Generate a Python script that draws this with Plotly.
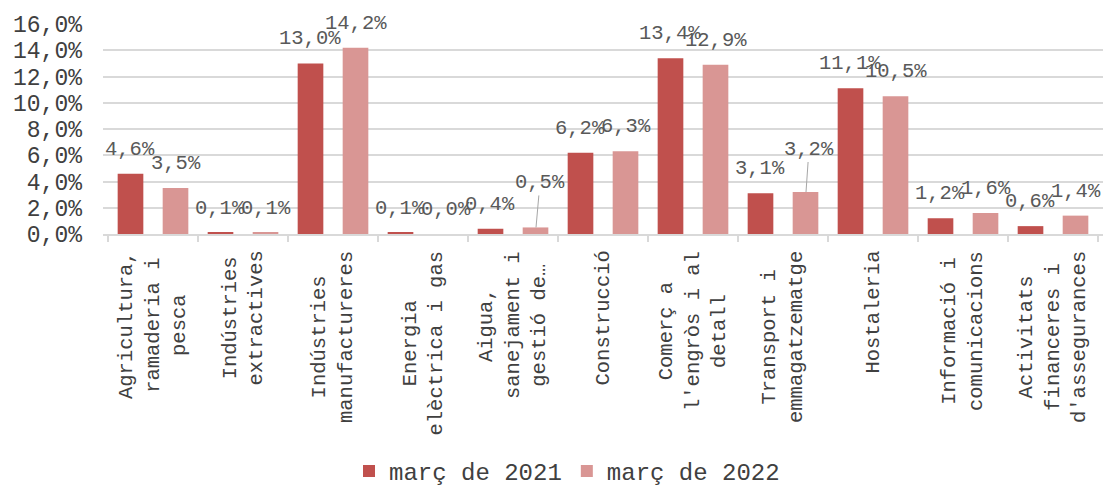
import plotly.graph_objects as go

categories = [
    "Agricultura, ramaderia i pesca",
    "Indústries extractives",
    "Indústries manufactureres",
    "Energia elèctrica i gas",
    "Aigua, sanejament i gestió de…",
    "Construcció",
    "Comerç a l'engròs i al detall",
    "Transport i emmagatzematge",
    "Hostaleria",
    "Informació i comunicacions",
    "Activitats financeres i d'assegurances",
]
tick_labels = [
    "Agricultura,<br>ramaderia i<br>pesca",
    "Indústries<br>extractives",
    "Indústries<br>manufactureres",
    "Energia<br>elèctrica i gas",
    "Aigua,<br>sanejament i<br>gestió de…",
    "Construcció",
    "Comerç a<br>l'engròs i al<br>detall",
    "Transport i<br>emmagatzematge",
    "Hostaleria",
    "Informació i<br>comunicacions",
    "Activitats<br>financeres i<br>d'assegurances",
]
series_names = ["març de 2021", "març de 2022"]
values_2021 = [4.6, 0.1, 13.0, 0.1, 0.4, 6.2, 13.4, 3.1, 11.1, 1.2, 0.6]
values_2022 = [3.5, 0.1, 14.2, 0.0, 0.5, 6.3, 12.9, 3.2, 10.5, 1.6, 1.4]

FONT = "Liberation Mono, Courier New, monospace"
COLORS = ["#C0504D", "#D99694"]
# labels moved away from their bars with a leader line: (series, category) -> (ax, ay) px
leader_labels = {(1, 4): (4, -45), (1, 7): (3, -43)}


def fmt(v):
    return f"{v:.1f}".replace(".", ",") + "%"


fig = go.Figure()
for name, vals, col in zip(series_names, [values_2021, values_2022], COLORS):
    fig.add_trace(go.Bar(name=name, x=categories, y=vals, marker_color=col,
                         marker_line_width=0))

annotations = []
for s, vals in enumerate([values_2021, values_2022]):
    xs = -23 if s == 0 else 23
    for i, (cat, v) in enumerate(zip(categories, vals)):
        if (s, i) in leader_labels:
            ax, ay = leader_labels[(s, i)]
            annotations.append(dict(
                x=cat, y=v, xref="x", yref="y", xshift=xs, text=fmt(v),
                showarrow=True, arrowhead=0, arrowwidth=1, arrowcolor="#A6A6A6",
                standoff=0, ax=ax, ay=ay,
                font=dict(family=FONT, size=20.5, color="#595959")))
        else:
            annotations.append(dict(
                x=cat, y=v, xref="x", yref="y", xshift=xs, yshift=11,
                yanchor="bottom", xanchor="center", text=fmt(v), showarrow=False,
                font=dict(family=FONT, size=20.5, color="#595959")))

for cat, lab in zip(categories, tick_labels):
    annotations.append(dict(
        x=cat, y=0, xref="x", yref="paper", yshift=-15, yanchor="top",
        xanchor="center", textangle=-90, align="center", text=lab,
        showarrow=False, font=dict(family=FONT, size=20.5, color="#404040")))

fig.update_layout(
    width=1106, height=487,
    margin=dict(l=103, r=3, t=24, b=253, autoexpand=False),
    paper_bgcolor="white", plot_bgcolor="white",
    separators=", ",
    barmode="group", bargap=0.0, bargroupgap=0.43,
    font=dict(family=FONT, color="#404040"),
    annotations=annotations,
    legend=dict(orientation="h", x=0.464, xanchor="center", y=-1.13,
                yanchor="middle", font=dict(family=FONT, size=24, color="#404040"),
                bgcolor="rgba(0,0,0,0)"),
    showlegend=True,
)
fig.update_yaxes(range=[0, 16], dtick=2, tickformat=".1f", ticksuffix="%",
                 showgrid=True, gridcolor="#D9D9D9", gridwidth=1.5,
                 zeroline=False, showline=False, ticks="",
                 ticklabelstandoff=20,
                 tickfont=dict(family=FONT, size=23, color="#404040"))
fig.update_xaxes(showline=True, linecolor="#D9D9D9", linewidth=1.5,
                 ticks="outside", tickson="boundaries", ticklen=6,
                 tickcolor="#D9D9D9", tickwidth=1.5, showticklabels=False,
                 showgrid=False)

fig.write_html("out.html", config={"displayModeBar": False},
               post_script="document.body.style.margin='0';document.body.style.padding='0';")
